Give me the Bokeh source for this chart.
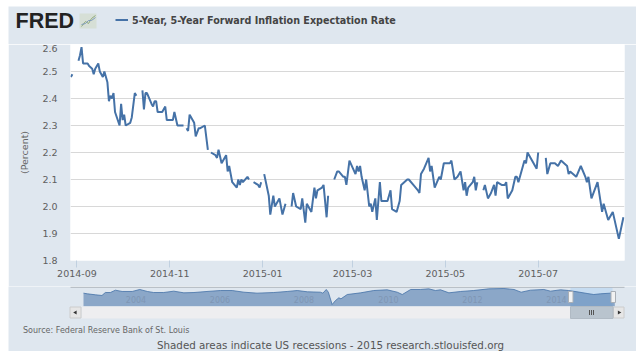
import numpy as np
import pandas as pd
from bokeh.embed import file_html
from bokeh.layouts import column
from bokeh.models import ColumnDataSource, DatetimeTickFormatter, FixedTicker, NumeralTickFormatter, Range1d
from bokeh.plotting import figure
from bokeh.resources import INLINE
from bokeh.core.properties import value

TITLE = "5-Year, 5-Year Forward Inflation Expectation Rate"
SOURCE = "Source: Federal Reserve Bank of St. Louis"
FOOT = "Shaded areas indicate US recessions - 2015 research.stlouisfed.org"
Y_LABEL = "(Percent)"
X_TICKS = ["2014-09", "2014-11", "2015-01", "2015-03", "2015-05", "2015-07"]
Y_TICKS = [1.8, 1.9, 2.0, 2.1, 2.2, 2.3, 2.4, 2.5, 2.6]
NAV_LABELS = ["2004", "2006", "2008", "2010", "2012", "2014"]

dates_2014 = [
 "08-28","08-29","09-01","09-02","09-03","09-04","09-05","09-08","09-09","09-11","09-12","09-13","09-15","09-16",
 "09-18","09-19","09-21","09-22","09-23","09-24","09-25","09-26","09-29","09-30","10-01","10-02","10-03","10-06",
 "10-07","10-09","10-10","10-13","10-14","10-15","10-16","10-17","10-20","10-21","10-22","10-23","10-24","10-27",
 "10-29","10-30","11-03","11-04","11-06","11-10","11-11","11-12","11-13","11-14","11-17","11-18","11-20","11-21",
 "11-24","11-26","11-27","11-28","12-01","12-02","12-03","12-05","12-08","12-09","12-10","12-11","12-12","12-15",
 "12-16","12-17","12-18","12-19","12-22","12-23","12-25","12-26","12-29","12-30","12-31"]
values_2014 = [
 2.48,2.49,None,2.54,2.56,2.59,2.53,2.53,2.52,2.51,2.49,2.51,2.53,2.50,
 2.48,2.50,2.46,2.39,2.41,2.40,2.42,2.35,2.30,2.38,2.32,2.34,2.30,2.31,
 2.33,2.42,2.41,None,2.43,2.36,2.42,2.42,2.38,2.37,2.39,2.39,2.35,2.35,
 2.37,2.32,2.32,2.35,2.30,2.30,None,2.29,2.28,2.34,2.31,2.26,2.29,2.29,
 2.30,2.21,None,2.20,2.19,2.18,2.21,2.16,2.19,2.13,2.15,2.12,2.09,2.07,
 2.10,2.08,2.10,2.09,2.11,2.10,None,2.09,2.08,2.07,2.09]
dates_2015 = [
 "01-01","01-02","01-05","01-06","01-08","01-09","01-12","01-14","01-16","01-19","01-20","01-21","01-23","01-26",
 "01-27","01-29","01-30","02-02","02-04","02-05","02-06","02-09","02-10","02-12","02-13","02-16","02-17","02-19",
 "02-20","02-23","02-24","02-25","02-27","03-03","03-04","03-05","03-06","03-07","03-09","03-10","03-12","03-13",
 "03-14","03-16","03-17","03-19","03-20","03-23","03-24","03-26","03-27","03-30","04-01","04-02","04-06","04-07",
 "04-10","04-13","04-14","04-15","04-17","04-20","04-21","04-22","04-24","04-27","04-28","04-30","05-02","05-04",
 "05-05","05-07","05-09","05-11","05-13","05-14","05-15","05-16","05-19","05-20","05-21","05-22","05-25","05-26",
 "05-27","05-29","05-31","06-02","06-03","06-04","06-07","06-09","06-10","06-11","06-14","06-16","06-17","06-18",
 "06-22","06-23","06-24","06-30","07-01","07-03","07-06","07-07","07-09","07-12","07-14","07-16","07-20","07-21",
 "07-22","07-26","07-29","08-01","08-02","08-03","08-05","08-09","08-12","08-13","08-16","08-19","08-23","08-26"]
values_2015 = [
 None,2.12,2.04,1.97,2.04,2.00,2.03,1.97,2.01,None,2.00,2.05,2.00,1.99,
 2.03,1.94,2.01,1.98,2.07,2.03,2.06,2.07,2.08,1.96,2.04,None,2.10,2.13,
 2.13,2.11,2.11,2.08,2.17,2.12,2.15,2.13,2.15,2.11,2.06,2.10,2.00,2.01,
 1.98,2.03,1.95,2.09,2.02,2.02,2.02,2.06,1.99,1.98,2.02,2.08,2.10,2.10,
 2.08,2.06,2.05,2.12,2.14,2.18,2.13,2.15,2.07,2.11,2.10,2.16,2.16,2.16,
 2.17,2.10,2.11,2.13,2.06,2.09,2.04,2.07,2.09,2.11,2.06,2.09,None,2.06,
 2.08,2.03,2.05,2.08,2.04,2.09,2.08,2.08,2.09,2.03,2.06,2.11,2.11,2.09,
 2.17,2.16,2.20,2.14,2.20,None,2.18,2.12,2.16,2.16,2.15,2.17,2.15,2.12,
 2.13,2.11,2.15,2.11,2.09,2.11,2.03,2.09,1.98,2.01,1.95,1.98,1.88,1.96]

nav_years = [2003.0,2003.09,2003.29,2003.44,2003.52,2003.64,2003.76,2003.92,2004.16,2004.34,2004.52,2004.67,2004.91,
 2005.15,2005.39,2005.63,2005.94,2006.26,2006.54,2006.82,2007.13,2007.53,2007.85,2008.09,2008.33,2008.64,2008.70,
 2008.78,2008.83,2008.92,2009.0,2009.08,2009.13,2009.28,2009.6,2009.91,2010.23,2010.47,2010.59,2010.79,2011.02,
 2011.22,2011.38,2011.5,2011.7,2011.98,2012.29,2012.65,2013.01,2013.25,2013.42,2013.64,2013.96,2014.12,2014.36,
 2014.55,2014.75,2014.99,2015.15,2015.31,2015.55,2015.65]
nav_values = [2.43,2.35,2.22,2.14,2.51,2.51,2.80,2.64,2.64,2.89,2.64,2.51,2.51,
 2.68,2.47,2.51,2.64,2.76,2.76,2.55,2.43,2.51,2.64,2.76,2.60,2.55,2.43,
 2.89,2.55,1.01,1.51,1.85,1.72,2.26,2.47,2.76,2.85,2.55,2.26,2.89,2.89,
 2.97,2.76,2.85,2.47,2.64,2.76,2.97,3.01,2.89,2.55,2.80,2.89,2.68,2.85,
 2.76,2.60,2.39,2.26,2.35,2.43,2.40]

CARD = "#DFE7EF"
BLUE = "#4572A7"
FONT = "DejaVu Sans"

def panel(height, y_top, y_bottom):
    f = figure(width=628, height=height, output_backend="svg", toolbar_location=None,
               x_range=Range1d(8, 636), y_range=Range1d(y_bottom, y_top), frame_align=False,
               background_fill_color=CARD, border_fill_color=CARD, outline_line_color=None,
               min_border=0, min_border_left=0, min_border_right=0, min_border_top=0, min_border_bottom=0)
    f.axis.visible = False
    f.grid.visible = False
    return f

# Header
head = panel(38, 6, 44)
head.text([15], [20.8], text=["FRED"], text_font=value("Liberation Sans"), text_font_style="bold",
          text_font_size="21.5px", text_color="#222222", text_baseline="middle")
head.quad(left=[79], right=[96], top=[13], bottom=[28], fill_color="#D6DFD6", line_color=None)
head.line([81, 85, 88, 91, 95], [26, 21, 23, 18, 15], line_color="#8FAA7A", line_width=1)
head.line([81, 85, 88, 91, 95], [24, 23, 20, 20, 17], line_color="#7F9BBB", line_width=1)
head.line([115, 127.5], [19.5, 19.5], line_color=BLUE, line_width=2)
head.text([131.5], [19.5], text=[TITLE], text_font=value(FONT), text_font_style="bold",
          text_font_size="9.6px", text_color="#444444", text_baseline="middle")

# Main chart
all_dates = pd.to_datetime(["2014-" + d for d in dates_2014] + ["2015-" + d for d in dates_2015])
all_values = np.array(values_2014 + values_2015, dtype=float)
src = ColumnDataSource({"date": all_dates, "rate": all_values})
p = figure(width=628, height=242, output_backend="svg", toolbar_location=None, x_axis_type="datetime",
           frame_align=False,
           x_range=Range1d(pd.Timestamp("2014-08-27 18:00"), pd.Timestamp("2015-08-26 17:00")),
           y_range=Range1d(1.8, 2.6), background_fill_color="white", border_fill_color=CARD,
           outline_line_color=None, min_border_left=62, min_border_right=12, min_border_top=0, min_border_bottom=26)
p.line("date", "rate", source=src, line_color=BLUE, line_width=2)
tick_ms = [pd.Timestamp(t + "-01").value / 1e6 for t in X_TICKS]
p.xaxis.ticker = FixedTicker(ticks=tick_ms)
fmt = "%Y-%m"
p.xaxis.formatter = DatetimeTickFormatter(years=fmt, months=fmt, days=fmt, hours=fmt, minutes=fmt, seconds=fmt,
                                          milliseconds=fmt, microseconds=fmt, context=None)
p.yaxis.ticker = FixedTicker(ticks=Y_TICKS)
p.yaxis.formatter = NumeralTickFormatter(format="0.0")
p.xgrid.visible = False
p.ygrid.grid_line_color = "#D8D8D8"
p.ygrid.grid_line_width = 1
p.xaxis.axis_line_color = None
p.xaxis.major_tick_line_color = "#C0D0E0"
p.xaxis.major_tick_in = 0
p.xaxis.major_tick_out = 7
p.xaxis.minor_tick_line_color = None
p.xaxis.major_label_standoff = 2
p.yaxis.axis_line_color = None
p.yaxis.major_tick_line_color = None
p.yaxis.minor_tick_line_color = None
p.yaxis.major_label_standoff = 7
p.axis.major_label_text_font = FONT
p.axis.major_label_text_font_size = "9.5px"
p.axis.major_label_text_color = "#606060"
p.yaxis.axis_label = Y_LABEL
p.yaxis.axis_label_text_font = FONT
p.yaxis.axis_label_text_font_size = "9.5px"
p.yaxis.axis_label_text_font_style = "normal"
p.yaxis.axis_label_text_color = "#666666"
p.yaxis.axis_label_standoff = 9

# Footer with navigator
foot = panel(65, 286, 351)
foot.extra_x_ranges["years"] = Range1d(2004 + (8 - 125) / 42, 2004 + (636 - 125) / 42)
foot.extra_y_ranges["pct"] = Range1d(0.8 + (305.7 - 351) / 8, 0.8 + (305.7 - 286) / 8)
foot.quad(left=[570], right=[612], top=[287], bottom=[306], fill_color="#C6DCF1", line_color=None)
foot.varea(x=nav_years, y1=[0.8] * len(nav_years), y2=nav_values, x_range_name="years", y_range_name="pct",
           fill_color=BLUE, fill_alpha=0.55)
foot.line(nav_years, nav_values, x_range_name="years", y_range_name="pct", line_color=BLUE, line_width=1, line_alpha=0.8)
foot.line([70, 624], [286.7, 286.7], line_color="#A9AFB6", line_width=1)
foot.text([135.5, 219.5, 303.5, 388, 472, 556], [299] * 6, text=NAV_LABELS, text_font=value(FONT),
          text_font_size="8px", text_color="#7F96B4", text_align="center", text_baseline="middle")
foot.quad(left=[81], right=[612], top=[306], bottom=[318], fill_color="#EEEEF0", line_color=None)
foot.quad(left=[69.5, 613], right=[80.5, 623.5], top=[306.5, 306.5], bottom=[317.5, 317.5],
          fill_color="#E6E6E6", line_color="#CCCCCC", line_width=1)
foot.quad(left=[570], right=[612.5], top=[306], bottom=[318], fill_color="#B9C4CE", line_color="#B0BAC4")
for xm in (589, 591, 593):
    foot.line([xm, xm], [309.5, 314.5], line_color="#555555", line_width=1)
foot.scatter([75], [312], marker="triangle", size=4, angle=np.pi / 2, fill_color="#333333", line_color=None)
foot.scatter([618.5], [312], marker="triangle", size=4, angle=-np.pi / 2, fill_color="#333333", line_color=None)
foot.quad(left=[568, 610.5], right=[572.5, 615], top=[291, 291], bottom=[302, 302],
          fill_color="#F2F2F2", line_color="#A9AFB6", line_width=1)
foot.text([22.5], [330], text=[SOURCE], text_font=value(FONT), text_font_size="8px", text_color="#666666",
          text_baseline="middle")
foot.text([156.5], [344], text=[FOOT], text_font=value(FONT), text_font_size="10.3px", text_color="#555555",
          text_baseline="middle")

page = column(head, p, foot, spacing=0, margin=(6, 0, 0, 8))
open("out.html", "w").write(file_html(page, INLINE))
